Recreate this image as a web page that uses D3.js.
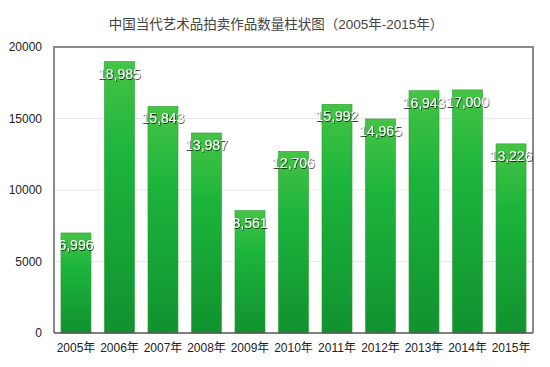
<!DOCTYPE html>
<html lang="zh">
<head>
<meta charset="UTF-8">
<title>中国当代艺术品拍卖作品数量柱状图</title>
<script src="https://cdn.jsdelivr.net/npm/d3@7"></script>
<style>
  * { margin: 0; padding: 0; }
  body { background: #fff; width: 550px; height: 367px; overflow: hidden; }
  text { font-family: "Liberation Sans", "Noto Sans CJK SC", sans-serif; }
</style>
</head>
<body>
<div id="chart"></div>
<script>
// data
const years = ["2005年", "2006年", "2007年", "2008年", "2009年", "2010年",
               "2011年", "2012年", "2013年", "2014年", "2015年"];
const counts = [6996, 18985, 15843, 13987, 8561, 12706, 15992, 14965, 16943, 17000, 13226];
const yTicks = [0, 5000, 10000, 15000, 20000];
const title = "中国当代艺术品拍卖作品数量柱状图（2005年-2015年）";

const W = 550, H = 367;
const m = { top: 47, right: 17, bottom: 34, left: 54 };

const svg = d3.select("#chart").append("svg")
  .attr("width", W).attr("height", H);

// gradient for bars
const defs = svg.append("defs");
const grad = defs.append("linearGradient")
  .attr("id", "barGrad").attr("x1", 0).attr("y1", 0).attr("x2", 0).attr("y2", 1);
grad.append("stop").attr("offset", "0%").attr("stop-color", "#45c445");
grad.append("stop").attr("offset", "35%").attr("stop-color", "#1cb43c");
grad.append("stop").attr("offset", "100%").attr("stop-color", "#11922f");

const shadow = defs.append("filter").attr("id", "txtShadow")
  .attr("x", "-20%").attr("y", "-40%").attr("width", "140%").attr("height", "180%");
shadow.append("feDropShadow").attr("dx", 0.6).attr("dy", 0.8)
  .attr("stdDeviation", 0.7).attr("flood-color", "#000").attr("flood-opacity", 0.9);

const x = d3.scaleBand().domain(years)
  .range([m.left, W - m.right]).paddingInner(0.31).paddingOuter(0.16);
const y = d3.scaleLinear().domain([0, 20000]).range([H - m.bottom, m.top]);

// title
svg.append("text")
  .attr("x", 276).attr("y", 29)
  .attr("text-anchor", "middle")
  .attr("font-size", 13.5).attr("fill", "#444")
  .text(title);

// gridlines
svg.append("g").selectAll("line")
  .data(yTicks.filter(d => d > 0 && d < 20000))
  .join("line")
  .attr("x1", m.left).attr("x2", W - m.right)
  .attr("y1", d => y(d)).attr("y2", d => y(d))
  .attr("stroke", "#e8e8e8").attr("stroke-width", 1);

// y axis labels
const yAxis = d3.axisLeft(y).tickValues(yTicks).tickSize(0).tickPadding(12)
  .tickFormat(d3.format("d"));
svg.append("g")
  .attr("transform", `translate(${m.left},0)`)
  .call(yAxis)
  .call(g => g.select(".domain").remove())
  .call(g => g.selectAll("text").attr("font-size", 12).attr("fill", "#222")
    .attr("font-family", "Liberation Sans, sans-serif"));

// bars
svg.append("g").selectAll("rect")
  .data(counts)
  .join("rect")
  .attr("x", (d, i) => x(years[i]))
  .attr("y", d => y(d))
  .attr("width", x.bandwidth())
  .attr("height", d => y(0) - y(d))
  .attr("fill", "url(#barGrad)")
  .attr("stroke", "#2a9e34").attr("stroke-width", 0.6);

// frame
svg.append("path")
  .attr("d", `M${m.left},${y(0)} V${m.top} H${W - m.right} V${y(0)}`)
  .attr("fill", "none").attr("stroke", "#8a8a8a").attr("stroke-width", 2);
svg.append("line")
  .attr("x1", m.left).attr("x2", W - m.right)
  .attr("y1", y(0)).attr("y2", y(0))
  .attr("stroke", "#555").attr("stroke-width", 1.5);

// x axis labels
const xAxis = d3.axisBottom(x).tickSize(0).tickPadding(10);
svg.append("g")
  .attr("transform", `translate(0,${y(0)})`)
  .call(xAxis)
  .call(g => g.select(".domain").remove())
  .call(g => g.selectAll("text").attr("font-size", 12).attr("fill", "#222")
    .attr("font-family", "Liberation Sans, Noto Sans CJK SC, sans-serif"));

// value labels
svg.append("g").selectAll("text")
  .data(counts)
  .join("text")
  .attr("x", (d, i) => x(years[i]) + x.bandwidth() / 2)
  .attr("y", d => y(d) + 17)
  .attr("text-anchor", "middle")
  .attr("font-size", 14)
  .attr("fill", "#fff")
  .attr("filter", "url(#txtShadow)")
  .text(d => d3.format(",")(d));
</script>
</body>
</html>
